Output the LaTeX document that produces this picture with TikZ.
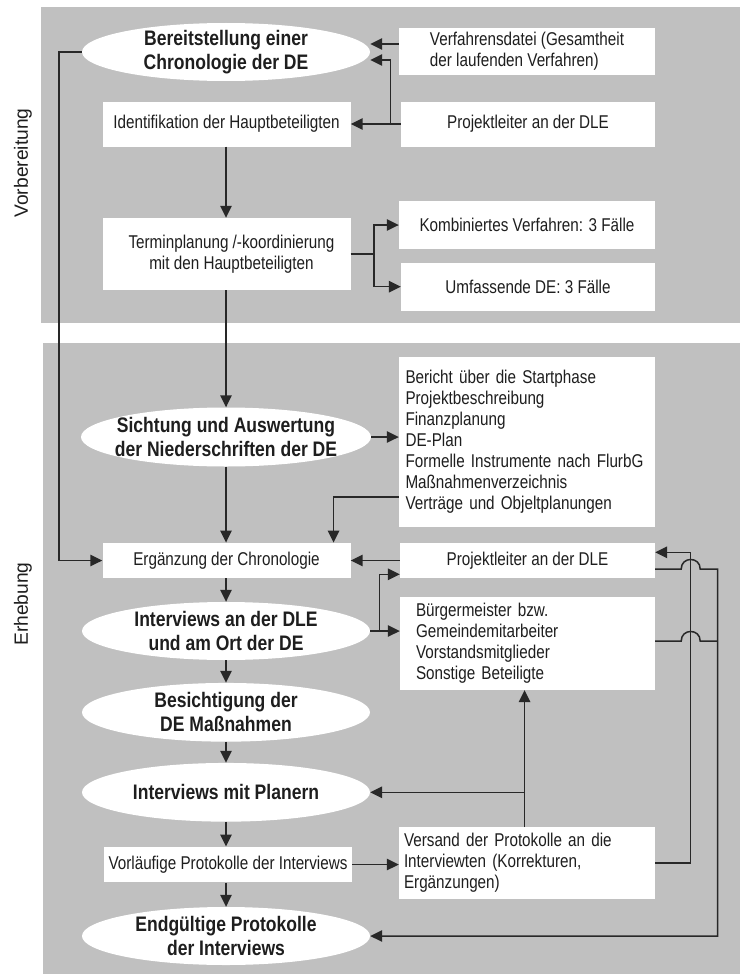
\documentclass[tikz,border=0pt]{standalone}
\usepackage{fontspec}
\setmainfont{Liberation Sans}[FakeStretch=0.824]
\newfontfamily\ovalfont{Liberation Sans}[FakeStretch=0.835]
\newfontfamily\sidefont{Liberation Sans}
\usetikzlibrary{shapes.geometric,arrows.meta,calc}
\definecolor{panel}{RGB}{192,192,192}
\definecolor{ink}{RGB}{30,30,30}
\definecolor{wirec}{RGB}{40,40,40}

\begin{document}
\begin{tikzpicture}[x=1pt,y=-1pt,
  wire/.style={draw=wirec,line width=1.5pt},
  arr/.style={wire,-{Triangle[length=12pt,width=11.5pt]}},
  box/.style={rectangle,fill=white,draw=none,inner sep=2pt,
    font=\fontsize{18.5}{21}\selectfont,text=ink,align=center},
  oval/.style={ellipse,fill=white,draw=none,inner sep=0pt,
    minimum width=288pt,minimum height=58pt},
  ovaltext/.style={font=\ovalfont\fontsize{21}{24.3}\selectfont\bfseries,
    text=ink,align=center,inner sep=0pt},
  phase/.style={font=\sidefont\fontsize{19.2}{22}\selectfont,text=ink,rotate=90},
]
\useasboundingbox (0,0) rectangle (741,974);

% phase panels
\fill[panel] (41,7) rectangle (740,323);
\fill[panel] (43,342.5) rectangle (740,974);
\node[phase] (ph1) at (23,163) {Vorbereitung};
\node[phase] (ph2) at (23,604) {Erhebung};

% preparation
\node[oval,label={[ovaltext]center:{Bereitstellung einer\\Chronologie der DE}}] (e1) at (226,52) {};
\node[box,minimum width=256pt,minimum height=47pt,align=left] (verf) at (527,51.3)
  {Verfahrensdatei (Gesamtheit\\der laufenden Verfahren)};
\node[box,minimum width=248pt,minimum height=45pt] (ident) at (226.5,124) {Identifikation der Hauptbeteiligten};
\node[box,minimum width=254pt,minimum height=45pt] (pl1) at (528,124) {Projektleiter an der DLE};
\node[box,minimum width=248pt,minimum height=72pt,inner xsep=2pt] (term) at (226.5,254)
  {\hspace*{10pt}Terminplanung /-koordinierung\\\hspace*{10pt}mit den Hauptbeteiligten};
\node[box,minimum width=256pt,minimum height=48pt] (komb) at (527,225) {Kombiniertes Verfahren: 3 Fälle};
\node[box,minimum width=254pt,minimum height=48pt] (umf) at (528,286.7) {Umfassende DE: 3 Fälle};

% survey
\node[oval,minimum width=290pt,minimum height=59pt,
  label={[ovaltext]center:{Sichtung und Auswertung\\der Niederschriften der DE}}] (sicht) at (226,437) {};
\node[box,minimum width=256pt,minimum height=170pt,align=left,text width=243pt,inner xsep=6.5pt] (docs) at (527,441.7)
  {Bericht über die Startphase\\Projektbeschreibung\\Finanzplanung\\DE-Plan\\Formelle Instrumente nach FlurbG\\Maßnahmenverzeichnis\\Verträge und Objeltplanungen};
\node[box,minimum width=248pt,minimum height=35.5pt] (erg) at (226.5,560.5) {Ergänzung der Chronologie};
\node[box,minimum width=255pt,minimum height=35pt] (pl2) at (527.5,560.5) {Projektleiter an der DLE};
\node[oval,label={[ovaltext]center:{Interviews an der DLE\\und am Ort der DE}}] (intv) at (226,631) {};
\node[box,minimum width=255pt,minimum height=93.3pt,align=left,text width=223pt,inner xsep=16pt] (buerg) at (527.5,643.3)
  {Bürgermeister bzw.\\Gemeindemitarbeiter\\Vorstandsmitglieder\\Sonstige Beteiligte};
\node[oval,minimum height=58.7pt,label={[ovaltext]center:{Besichtigung der\\DE Maßnahmen}}] (besi) at (226,712.3) {};
\node[oval,minimum height=58.7pt,label={[ovaltext]center:{Interviews mit Planern}}] (plan) at (226,792.3) {};
\node[box,minimum width=248pt,minimum height=35.6pt] (vorl) at (228,864.5) {Vorläufige Protokolle der Interviews};
\node[box,minimum width=256pt,minimum height=71.7pt,align=left,text width=246pt,inner xsep=5pt] (vers) at (527,863.2)
  {Versand der Protokolle an die\\Interviewten (Korrekturen,\\Ergänzungen)};
\node[oval,label={[ovaltext]center:{Endgültige Protokolle\\der Interviews}}] (endp) at (226,936) {};

% junctions
\coordinate (j1) at (390.4,124);
\coordinate (j2) at (374,254);
\coordinate (j3) at (379.5,631);
\coordinate (j4) at (524.6,792.3);
\coordinate (ra) at (690.7,552.3);

% connectors, preparation
\draw[arr] (verf.west |- 0,44) -- (e1.east |- 0,44);
\draw[arr] (pl1.west) -- (ident.east);
\draw[arr] (j1) |- (e1.east |- 0,60);
\draw[arr] (ident.south -| e1) -- (term.north -| e1);
\draw[wire] (term.east) -- (j2);
\draw[arr] (j2) |- (komb.west);
\draw[arr] (j2) |- (umf.west);
\draw[arr] (term.south -| e1) -- (sicht.north);
\draw[arr] (e1.west) -- (e1.west -| 59,0) |- (erg.west);

% connectors, survey
\draw[arr] (sicht.east) -- (docs.west |- sicht.east);
\draw[arr] (sicht.south) -- (erg.north -| sicht);
\draw[arr] (docs.west |- 0,497) -| (erg.north -| 333.6,0);
\draw[arr] (pl2.west) -- (erg.east);
\draw[wire] (intv.east) -- (j3);
\draw[arr] (j3) |- (pl2.west |- 0,574.3);
\draw[arr] (j3) -- (buerg.west |- j3);
\draw[arr] (erg.south -| intv) -- (intv.north);
\draw[arr] (intv.south) -- (besi.north);
\draw[arr] (besi.south) -- (plan.north);
\draw[arr] (plan.south) -- (vorl.north -| plan);
\draw[arr] (vorl.south -| endp) -- (endp.north);
\draw[arr] (vorl.east) -- (vers.west |- vorl.east);
\draw[arr] (vers.north -| j4) -- (buerg.south -| j4);
\draw[arr] (j4) -- (plan.east);

% return lines on the right, with hops over the crossing
\draw[arr] (vers.east) -| (ra) -- (pl2.east |- ra);
\draw[arr] (pl2.east |- 0,569) -- (681.2,569)
  .. controls (681.2,556.3) and (700.2,556.3) .. (700.2,569)
  -- (717.7,569) |- (endp.east);
\draw[wire] (buerg.east |- 0,641) -- (681.2,641)
  .. controls (681.2,628.3) and (700.2,628.3) .. (700.2,641)
  -- (717.7,641);
\end{tikzpicture}
\end{document}
